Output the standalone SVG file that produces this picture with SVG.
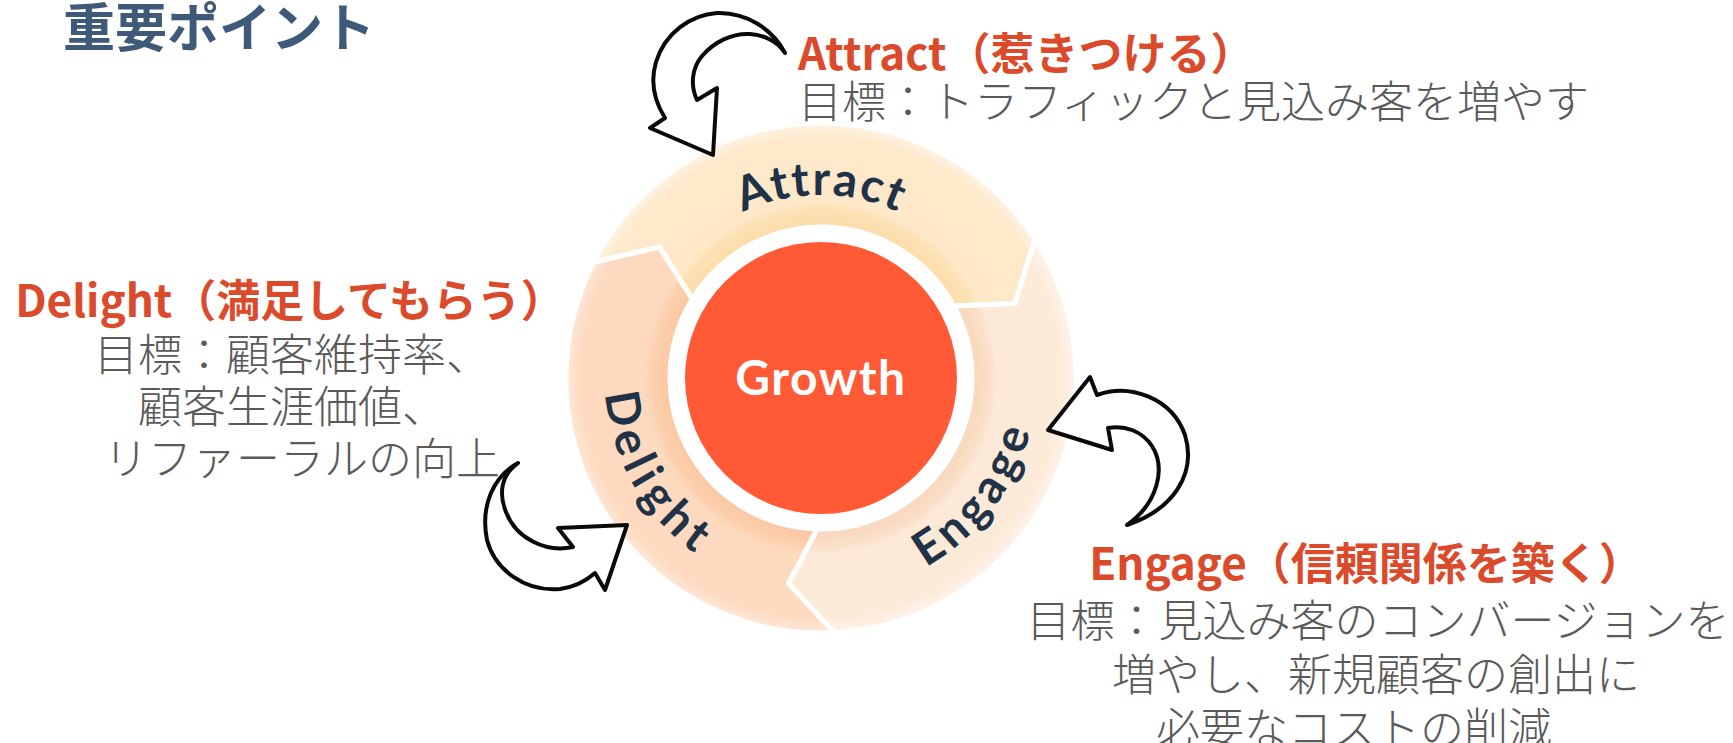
<svg xmlns="http://www.w3.org/2000/svg" width="1733" height="743" viewBox="0 0 1733 743">
  <style>
    .heading { font-family: "Noto Sans CJK JP", sans-serif; font-weight: 700; font-size: 52px; fill: #3E5A78; }
    .title { font-family: "Noto Sans CJK JP", sans-serif; font-weight: 700; font-size: 44px; fill: #DB4A2B; }
    .body { font-family: "Noto Sans CJK JP", sans-serif; font-weight: 300; font-size: 44px; fill: #5A5A5A; }
    .ring-label { font-family: Lato, "Noto Sans", sans-serif; font-weight: 700; font-size: 47px; fill: #1F3247; }
    .seg { stroke: #FFFFFF; stroke-width: 5; stroke-linejoin: round; }
    .arrow { fill: #FFFFFF; stroke: #0A0A0A; stroke-width: 4; stroke-linejoin: round; stroke-linecap: round; }
  </style>
  <defs>
    <radialGradient id="gAttract" gradientUnits="userSpaceOnUse" cx="821" cy="378" r="255">
      <stop offset="0.59" stop-color="#FCDCA8"/>
      <stop offset="0.66" stop-color="#FDE2B5"/>
      <stop offset="0.69" stop-color="#FEE8C8"/>
      <stop offset="0.94" stop-color="#FEE9CB"/>
      <stop offset="1" stop-color="#FEF3E3"/>
    </radialGradient>
    <radialGradient id="gEngage" gradientUnits="userSpaceOnUse" cx="821" cy="378" r="255">
      <stop offset="0.59" stop-color="#F8D6BB"/>
      <stop offset="0.66" stop-color="#FADFC8"/>
      <stop offset="0.69" stop-color="#FCE9D7"/>
      <stop offset="0.94" stop-color="#FDEBDA"/>
      <stop offset="1" stop-color="#FEF3EA"/>
    </radialGradient>
    <radialGradient id="gDelight" gradientUnits="userSpaceOnUse" cx="821" cy="378" r="255">
      <stop offset="0.59" stop-color="#FBC6A0"/>
      <stop offset="0.66" stop-color="#FCD0AE"/>
      <stop offset="0.69" stop-color="#FDD9BE"/>
      <stop offset="0.94" stop-color="#FDDAC0"/>
      <stop offset="1" stop-color="#FEE8D8"/>
    </radialGradient>
    <!-- baselines for the curved ring labels -->
    <path id="arcAttract" d="M638,378 A183,183 0 0 1 1004,378"/>
    <path id="arcDelight" d="M713,190.9 A216,216 0 0 0 929,565.1"/>
    <path id="arcEngage" d="M691,550.5 A216,216 0 0 0 951,205.5"/>
  </defs>

  <rect width="1733" height="743" fill="#FFFFFF"/>

  <text id="heading" class="heading" x="63" y="47">重要ポイント</text>

  <!-- flywheel ring segments -->
  <g id="seg-attract">
    <path class="seg" fill="url(#gAttract)" d="M593.8,262.2 A255,255 0 0 1 1034.9,239.1 L1015.2,303.5 L953.7,305.9 A151,151 0 0 0 692.3,299.1 L659.4,247.1 Z"/>
    <text class="ring-label" letter-spacing="2"><textPath href="#arcAttract" startOffset="50%" text-anchor="middle">Attract</textPath></text>
  </g>
  <g id="seg-engage">
    <path class="seg" fill="url(#gEngage)" d="M1034.9,239.1 A255,255 0 0 1 834.3,632.7 L788.5,583.4 L817.0,529.0 A151,151 0 0 0 953.7,305.9 L1015.2,303.5 Z"/>
    <text class="ring-label" letter-spacing="5"><textPath href="#arcEngage" startOffset="50%" text-anchor="middle">Engage</textPath></text>
  </g>
  <g id="seg-delight">
    <path class="seg" fill="url(#gDelight)" d="M834.3,632.7 A255,255 0 0 1 593.8,262.2 L659.4,247.1 L692.3,299.1 A151,151 0 0 0 817.0,529.0 L788.5,583.4 Z"/>
    <text class="ring-label" letter-spacing="6"><textPath href="#arcDelight" startOffset="50%" text-anchor="middle">Delight</textPath></text>
  </g>

  <g id="growth">
    <circle cx="821" cy="378" r="136" fill="#FF5A35"/>
    <text x="821" y="395" text-anchor="middle" font-family="Lato, 'Noto Sans', sans-serif" font-weight="700" font-size="48" letter-spacing="1.5" fill="#FFFFFF">Growth</text>
  </g>

  <!-- hand-drawn curved arrows -->
  <g id="connectors">
    <path class="arrow" d="M785,53 C772,28 745,12 717,13 C690,15 665,33 656,62 C650,82 655,102 665,118 L650,128 L713,155 L717,88 L697,100 C690,85 692,68 702,56 C714,42 732,33 750,34 C765,35 778,42 785,53 Z"/>
    <path class="arrow" d="M1048,430 L1090,377 L1097,395 C1130,383 1172,398 1185,435 C1197,475 1172,510 1127,525 C1158,503 1166,468 1152,446 C1142,431 1125,425 1108,428 L1112,450 Z"/>
    <path class="arrow" d="M627,525 L558,528 L573,547 C545,553 516,538 506,512 C498,492 502,474 518,463 C494,476 480,505 487,540 C495,570 525,592 560,589 C575,587 587,580 595,573 L605,590 Z"/>
  </g>

  <g id="attract-note">
    <text class="title" x="798" y="70">Attract（惹きつける）</text>
    <text class="body" x="798" y="118">目標：トラフィックと見込み客を増やす</text>
  </g>

  <g id="delight-note" text-anchor="middle">
    <text class="title" x="290" y="317">Delight（満足してもらう）</text>
    <text class="body" x="292" y="371">目標：顧客維持率、</text>
    <text class="body" x="292" y="423">顧客生涯価値、</text>
    <text class="body" x="302" y="475">リファーラルの向上</text>
  </g>

  <g id="engage-note" text-anchor="middle">
    <text class="title" x="1366" y="580">Engage（信頼関係を築く）</text>
    <text class="body" x="1378" y="637">目標：見込み客のコンバージョンを</text>
    <text class="body" x="1376" y="691">増やし、新規顧客の創出に</text>
    <text class="body" x="1354" y="745">必要なコストの削減</text>
  </g>
</svg>
